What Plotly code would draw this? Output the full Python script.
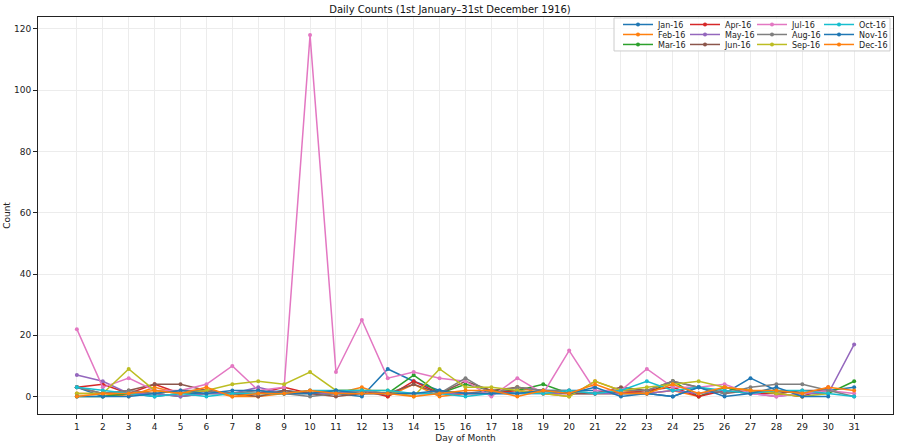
import plotly.graph_objects as go

# daily counts per month, 1916 (leap year)
months = ["Jan-16", "Feb-16", "Mar-16", "Apr-16", "May-16", "Jun-16",
          "Jul-16", "Aug-16", "Sep-16", "Oct-16", "Nov-16", "Dec-16"]

jan = [3, 0, 1, 0, 1, 1, 1, 1, 2, 1, 1, 0, 9, 5, 2, 1, 2, 1, 2, 2, 2, 1, 1, 0, 3, 1, 6, 2, 1, 2, 3]
feb = [1, 1, 0, 3, 1, 2, 0, 0, 1, 2, 1, 3, 0, 4, 0, 1, 1, 3, 1, 0, 5, 2, 1, 2, 0, 3, 2, 1, 0]
mar = [0, 0, 1, 1, 0, 1, 1, 1, 1, 1, 2, 2, 1, 7, 1, 4, 2, 2, 4, 1, 1, 1, 1, 5, 0, 3, 1, 2, 1, 1, 5]
apr = [3, 4, 1, 4, 1, 2, 1, 1, 3, 1, 1, 2, 0, 5, 1, 1, 1, 2, 1, 1, 1, 1, 2, 3, 0, 2, 1, 1, 0, 3]
may = [7, 5, 1, 1, 0, 1, 1, 3, 1, 1, 1, 2, 1, 1, 1, 1, 1, 1, 1, 1, 1, 1, 1, 2, 1, 2, 1, 0, 1, 1, 17]
jun = [3, 1, 2, 4, 4, 2, 1, 0, 2, 1, 0, 1, 1, 4, 1, 5, 2, 3, 2, 1, 1, 3, 2, 5, 3, 1, 2, 1, 2, 2]
jul = [22, 3, 6, 2, 2, 4, 10, 2, 3, 118, 8, 25, 6, 8, 6, 5, 0, 6, 1, 15, 2, 2, 9, 3, 3, 4, 1, 0, 1, 2, 1]
aug = [3, 1, 2, 1, 2, 2, 1, 2, 1, 0, 1, 1, 1, 1, 1, 6, 1, 3, 2, 2, 1, 2, 2, 5, 3, 1, 3, 4, 4, 2, 0]
sep = [1, 1, 9, 2, 1, 2, 4, 5, 4, 8, 2, 2, 2, 0, 9, 3, 3, 2, 1, 0, 5, 2, 3, 4, 5, 3, 2, 1, 0, 1]
oct_ = [3, 2, 1, 0, 1, 0, 1, 1, 1, 2, 2, 2, 2, 1, 1, 0, 1, 1, 1, 2, 1, 2, 5, 2, 3, 2, 1, 2, 2, 1, 0]
nov = [0, 0, 0, 1, 2, 1, 2, 2, 1, 1, 2, 1, 1, 1, 2, 1, 1, 1, 2, 1, 3, 0, 1, 0, 3, 0, 1, 3, 0, 0]
dec = [0, 1, 1, 2, 1, 3, 0, 1, 1, 2, 1, 1, 1, 0, 1, 2, 2, 0, 2, 1, 4, 1, 1, 4, 1, 3, 2, 2, 1, 3, 2]

series = [jan, feb, mar, apr, may, jun, jul, aug, sep, oct_, nov, dec]
colors = ["#1f77b4", "#ff7f0e", "#2ca02c", "#d62728", "#9467bd", "#8c564b",
          "#e377c2", "#7f7f7f", "#bcbd22", "#17becf", "#1f77b4", "#ff7f0e"]
day_ticks = list(range(1, 32))

W, H = 900, 445
L, R, T, B = 38, 7, 17, 30.5
pw, ph = W - L - R, H - T - B


def px_x(p):
    return (p - L) / pw


def px_y(p):
    return (H - B - p) / ph


fig = go.Figure()
layout_legends = {}
# legend laid out in 4 columns x 3 rows, month order down each column
col_left = [618, 685, 752, 819]
row_mid = [24.5, 34.5, 44.5]
for i, (name, vals) in enumerate(zip(months, series)):
    lg = "legend" if i == 0 else f"legend{i + 1}"
    fig.add_trace(go.Scatter(
        x=list(range(1, len(vals) + 1)), y=vals, name=name,
        mode="lines+markers",
        line=dict(color=colors[i], width=1.5),
        marker=dict(color=colors[i], size=4),
        legend=lg, showlegend=True,
    ))
    layout_legends[lg] = dict(
        x=px_x(col_left[i // 3]), xanchor="left",
        y=px_y(row_mid[i % 3]), yanchor="middle",
        bgcolor="rgba(0,0,0,0)", borderwidth=0,
        font=dict(family="DejaVu Sans", size=8, color="#222"),
        itemwidth=30, visible=True,
    )

fig.update_layout(
    width=W, height=H,
    margin=dict(l=L, r=R, t=T, b=B, autoexpand=False),
    showlegend=True,
    paper_bgcolor="white", plot_bgcolor="white",
    font=dict(family="DejaVu Sans", size=9, color="#222"),
    title=dict(text="Daily Counts (1st January–31st December 1916)",
               x=0.5, xanchor="center", y=1 - 9 / H, yanchor="middle",
               font=dict(size=10, color="#111")),
    xaxis=dict(range=[-0.5, 32.5], tickvals=day_ticks, ticktext=[str(d) for d in day_ticks],
               showgrid=True, gridcolor="#ececec", gridwidth=1, zeroline=False,
               showline=True, linecolor="#222", linewidth=1, mirror=True,
               ticks="outside", ticklen=4, tickcolor="#222", automargin=False,
               title=dict(text="Day of Month", standoff=3, font=dict(size=9))),
    yaxis=dict(range=[-5.7, 123.9], tickvals=[0, 20, 40, 60, 80, 100, 120],
               showgrid=True, gridcolor="#ececec", gridwidth=1, zeroline=False,
               showline=True, linecolor="#222", linewidth=1, mirror=True,
               ticks="outside", ticklen=4, tickcolor="#222", automargin=False,
               title=dict(text="Count", standoff=1, font=dict(size=9))),
    shapes=[dict(type="rect", xref="paper", yref="paper", layer="above",
                 x0=px_x(614), x1=px_x(890), y0=px_y(51), y1=px_y(18),
                 fillcolor="rgba(255,255,255,0.85)", line=dict(color="#cccccc", width=1))],
    **layout_legends,
)

# drop the browser's default body margin so the figure sits at the page origin
fig.write_html("out.html", config=dict(displayModeBar=False),
               post_script="document.body.style.margin='0';")
